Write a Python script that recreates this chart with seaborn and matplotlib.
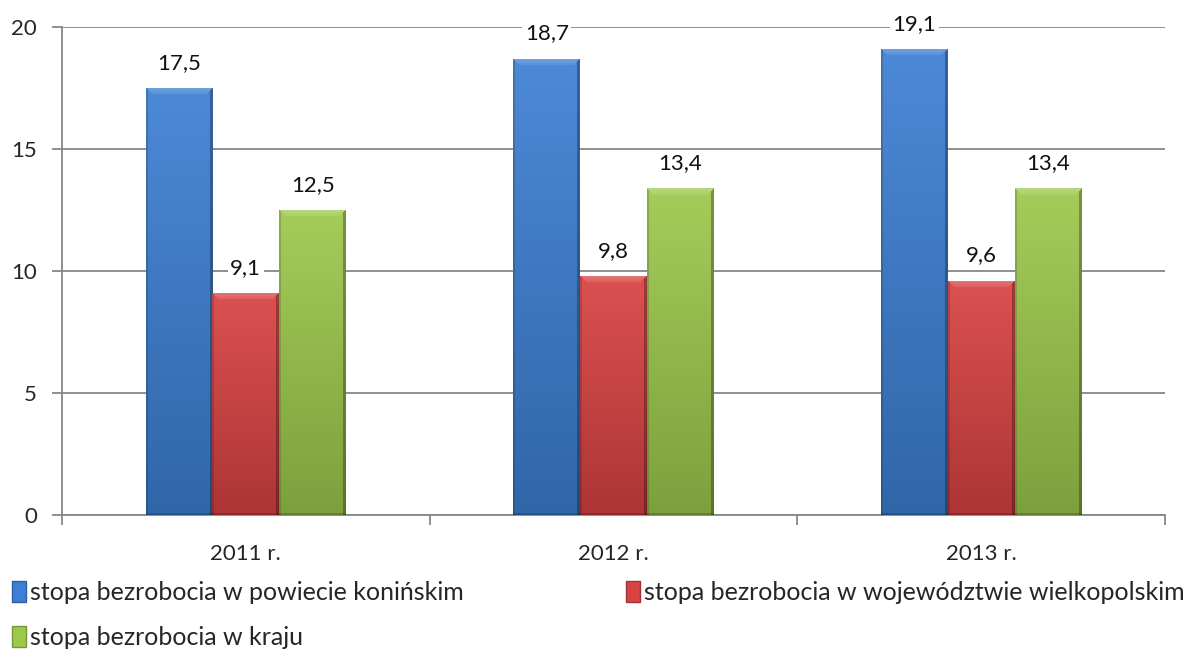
import numpy as np
import pandas as pd
import matplotlib
matplotlib.use("Agg")
import matplotlib.pyplot as plt
import matplotlib.colors as mcolors
from matplotlib.patches import Patch
import seaborn as sns

# dane z wykresu
lata = ["2011 r.", "2012 r.", "2013 r."]
serie = [
    "stopa bezrobocia w powiecie konińskim",
    "stopa bezrobocia w województwie wielkopolskim",
    "stopa bezrobocia w kraju",
]
powiat = [17.5, 18.7, 19.1]
wojewodztwo = [9.1, 9.8, 9.6]
kraj = [12.5, 13.4, 13.4]
kolory = ["#3d7fd3", "#d84242", "#9cc84c"]

df = pd.DataFrame({
    "rok": lata * 3,
    "seria": [s for s in serie for _ in lata],
    "wartosc": powiat + wojewodztwo + kraj,
})

sns.set_style("white")
plt.rcParams["font.family"] = ["Lato", "DejaVu Sans"]
SZARY = "#878787"

fig = plt.figure(figsize=(11.87, 6.57), dpi=100)
ax = fig.add_axes([0.0522, 0.2161, 0.9293, 0.7428])

sns.barplot(data=df, x="rok", y="wartosc", hue="seria", hue_order=serie,
            palette=kolory, width=0.545, ax=ax, legend=False,
            edgecolor="none", linewidth=0, zorder=3)

ax.set_xlim(-0.5, 2.5)
ax.set_ylim(0, 20)
fig.canvas.draw()

# gradient + skos na górze słupka (efekt jak w Excelu)
for kontener, kol in zip(ax.containers, kolory):
    base = np.array(mcolors.to_rgb(kol))
    jasny = base + (1 - base) * 0.08
    ciemny = base * 0.8
    for p in kontener.patches:
        x0, w, h = p.get_x(), p.get_width(), p.get_height()
        (px0, py0), (px1, py1) = ax.transData.transform([(x0, 0), (x0 + w, h)])
        nr = max(int(abs(py1 - py0)), 10)
        nc = max(int(abs(px1 - px0)), 10)
        t = np.linspace(0, 1, nr)[:, None, None]
        img = jasny * (1 - t) + ciemny * t
        img = np.repeat(img, nc, axis=1)
        # skos górny (trapez)
        for r in range(7):
            img[r, r:nc - r] = np.clip(base + (1 - base) * (0.28 - 0.02 * r), 0, 1)
        # ciemniejsze krawędzie boczne
        for r in range(nr):
            k = min(r, 7)
            img[r, :min(k, 2)] *= 0.85
            img[r, nc - max(min(k, 3), 1):] *= 0.72
        img[-2:] *= 0.8
        im = ax.imshow(img, extent=[x0, x0 + w, 0, h], origin="upper",
                       aspect="auto", zorder=4, interpolation="nearest")
        im.set_clip_path(p)

ax.set_xlim(-0.5, 2.5)
ax.set_ylim(0, 20)

for kontener in ax.containers:
    ax.bar_label(kontener, labels=[f"{v:.1f}".replace(".", ",") for v in kontener.datavalues],
                 padding=11, fontsize=16, color="#111111", zorder=6,
                 bbox=dict(facecolor="white", edgecolor="none", pad=2))

ax.set_yticks([0, 5, 10, 15, 20])
ax.yaxis.grid(True, color=SZARY, lw=1.3, zorder=0)
ax.set_axisbelow(True)
ax.set_xlabel("")
ax.set_ylabel("")

for s in ["top", "right"]:
    ax.spines[s].set_visible(False)
for s in ["left", "bottom"]:
    ax.spines[s].set_color(SZARY)
    ax.spines[s].set_linewidth(1.3)

ax.tick_params(axis="y", length=7, width=1.3, color=SZARY, pad=11, labelsize=16, left=True)
ax.tick_params(axis="x", which="major", length=0, pad=21, labelsize=16)
ax.set_xticks([-0.5, 0.5, 1.5, 2.5], minor=True)
ax.tick_params(axis="x", which="minor", length=7, width=1.3, color=SZARY, bottom=True)

# kolejność wierszami: 1, 2 w pierwszym wierszu, 3 w drugim
kolejnosc = [0, 2, 1]
uchwyty = [Patch(facecolor=kolory[i], edgecolor=np.array(mcolors.to_rgb(kolory[i])) * 0.75)
           for i in kolejnosc]
fig.legend(uchwyty, [serie[i] for i in kolejnosc], loc="upper left",
           bbox_to_anchor=(0.002, 0.131), ncol=2, frameon=False, fontsize=18,
           handlelength=0.55, handleheight=0.9, handletextpad=0.15,
           columnspacing=6.5, labelspacing=0.9, borderaxespad=0)

fig.savefig("out.png", dpi=100)
